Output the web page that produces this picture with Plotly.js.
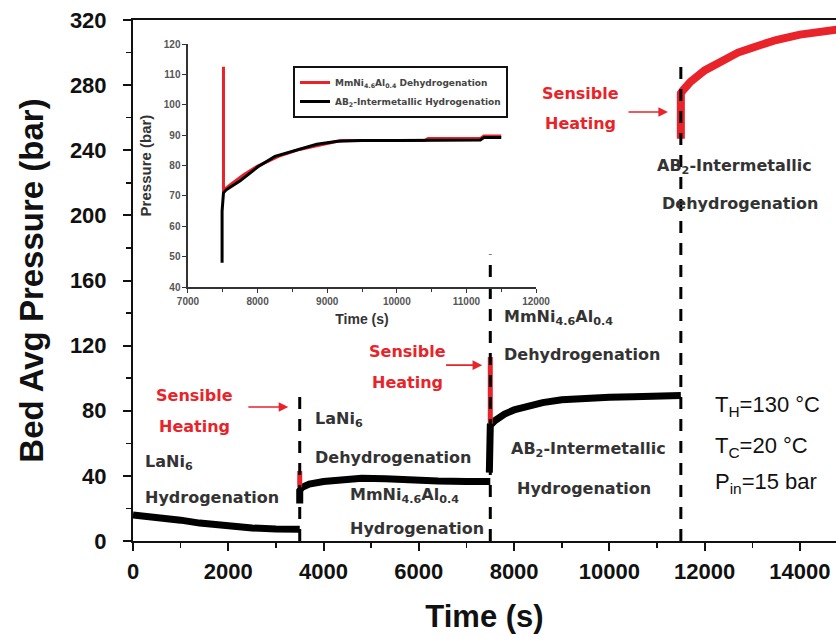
<!DOCTYPE html>
<html><head><meta charset="utf-8">
<script src="https://cdn.plot.ly/plotly-3.0.1.min.js"></script>
<style>html,body{margin:0;padding:0;background:#fff}#chart{width:836px;height:637px}</style>
</head><body><div id="chart"></div>
<script>
// ---------- Main chart data ----------
const laniHydT = [0, 300, 700, 1000, 1400, 2000, 2500, 3000, 3500];
const laniHydP = [16, 15.2, 14, 12.8, 11, 8.8, 8, 7.4, 7.2];

const spike1T = [3500, 3500];
const spike1P = [33, 43];

const mmHydT = [3500, 3500, 3550, 3700, 4000, 4400, 4800, 5300, 5800, 6400, 7000, 7500];
const mmHydP = [23, 31, 33, 35, 36.5, 37.5, 38.5, 38.3, 37.3, 36.8, 36.6, 36.6];

const spike2T = [7500, 7500];
const spike2P = [72, 113];

const ab2HydT = [7480, 7480, 7500, 7600, 7800, 8000, 8300, 8600, 9000, 9500, 10000, 10500, 11000, 11500];
const ab2HydP = [42, 70, 71, 74, 78, 80.5, 83, 85, 86.8, 87.8, 88.3, 88.6, 89, 89.3];

const ab2DehT = [11500, 11500, 11550, 11700, 12000, 12300, 12700, 13000, 13500, 14000, 14500, 15000];
const ab2DehP = [247, 275, 277, 282, 289, 294, 300, 303, 307.7, 311, 313, 315];

const dividerT = [3500, 7500, 11500];
const dividerTop = [92, 176, 296];

// ---------- Inset data ----------
const insetRedT = [7510, 7510, 7520, 7600, 7800, 8000, 8300, 8600, 9000, 9200, 10400, 10450, 10600, 11200, 11250, 11500];
const insetRedP = [112.5, 71, 72, 73.5, 77, 79.8, 83, 85.3, 87.3, 88.2, 88.2, 88.9, 88.9, 88.9, 89.7, 89.7];
const insetBlackT = [7490, 7490, 7510, 7550, 7750, 8000, 8250, 8550, 8850, 9150, 9500, 10000, 10500, 11200, 11250, 11500];
const insetBlackP = [48, 65, 71, 72, 75, 79.5, 83, 85, 87, 88, 88.2, 88.2, 88.3, 88.4, 89.2, 89.2];

const legendNames = ['MmNi<sub>4.6</sub>Al<sub>0.4</sub> Dehydrogenation', 'AB<sub>2</sub>-Intermetallic Hydrogenation'];

const RED = '#e8232a';
const BLACK = '#000000';

const dashX = [], dashY = [];
dividerT.forEach((t, i) => { dashX.push(t, t, null); dashY.push(0, dividerTop[i], null); });

const traces = [
  {x: laniHydT, y: laniHydP, mode: 'lines', line: {color: BLACK, width: 7}, showlegend: false},
  {x: mmHydT, y: mmHydP, mode: 'lines', line: {color: BLACK, width: 7}, showlegend: false},
  {x: spike1T, y: spike1P, mode: 'lines', line: {color: RED, width: 5}, showlegend: false},
  {x: ab2HydT, y: ab2HydP, mode: 'lines', line: {color: BLACK, width: 7}, showlegend: false},
  {x: spike2T, y: spike2P, mode: 'lines', line: {color: RED, width: 5}, showlegend: false},
  {x: ab2DehT, y: ab2DehP, mode: 'lines', line: {color: RED, width: 8}, showlegend: false},
  {x: dashX, y: dashY, mode: 'lines', line: {color: BLACK, width: 3, dash: '12px,10px'}, showlegend: false},
  {x: insetRedT, y: insetRedP, xaxis: 'x2', yaxis: 'y2', mode: 'lines', name: legendNames[0], line: {color: RED, width: 3}},
  {x: insetBlackT, y: insetBlackP, xaxis: 'x2', yaxis: 'y2', mode: 'lines', name: legendNames[1], line: {color: BLACK, width: 3}}
];

const LBL = {family: 'DejaVu Sans', size: 16, color: '#333333', weight: 'bold'};
const RLBL = {family: 'DejaVu Sans', size: 16, color: RED, weight: 'bold'};
const CND = {family: 'Liberation Sans', size: 22, color: '#111111'};

function txt(x, y, text, font, xanchor) {
  return {x: x, y: y, xref: 'x', yref: 'y', text: text, showarrow: false, font: font, xanchor: xanchor || 'left', yanchor: 'middle'};
}
function arrow(x0, x1, y) {
  return {x: x1, y: y, ax: x0, ay: y, xref: 'x', yref: 'y', axref: 'x', ayref: 'y', text: '', showarrow: true,
          arrowcolor: RED, arrowwidth: 1.6, arrowhead: 2, arrowsize: 1.2, standoff: 0, startstandoff: 0};
}

const annotations = [
  txt(1300, 89.5, 'Sensible', RLBL, 'center'),
  txt(1300, 70.5, 'Heating', RLBL, 'center'),
  arrow(2390, 3260, 82.3),
  txt(210, 48.5, 'LaNi<sub>6</sub>', LBL),
  txt(210, 27, 'Hydrogenation', LBL),
  txt(3780, 74.5, 'LaNi<sub>6</sub>', LBL),
  txt(3780, 51.5, 'Dehydrogenation', LBL),
  txt(4510, 28, 'MmNi<sub>4.6</sub>Al<sub>0.4</sub>', LBL),
  txt(4510, 7.5, 'Hydrogenation', LBL),
  txt(5760, 116.5, 'Sensible', RLBL, 'center'),
  txt(5760, 97.5, 'Heating', RLBL, 'center'),
  arrow(6540, 7330, 108),
  txt(7745, 137.5, 'MmNi<sub>4.6</sub>Al<sub>0.4</sub>', LBL),
  txt(7745, 114.5, 'Dehydrogenation', LBL),
  txt(7890, 56, 'AB<sub>2</sub>-Intermetallic', LBL),
  txt(8020, 32.5, 'Hydrogenation', LBL),
  txt(9400, 275, 'Sensible', RLBL, 'center'),
  txt(9400, 256.5, 'Heating', RLBL, 'center'),
  arrow(10370, 11230, 263.5),
  txt(10950, 230, 'AB<sub>2</sub>-Intermetallic', LBL),
  txt(11060, 207.5, 'Dehydrogenation', LBL),
  txt(12170, 83, 'T<sub>H</sub>=130 °C', CND),
  txt(12170, 57.5, 'T<sub>C</sub>=20 °C', CND),
  txt(12170, 35.5, 'P<sub>in</sub>=15 bar', CND)
];

const layout = {
  width: 836, height: 637,
  margin: {l: 133, r: 0, t: 20, b: 96},
  paper_bgcolor: '#ffffff', plot_bgcolor: 'rgba(0,0,0,0)',
  font: {family: 'Liberation Sans', color: '#111'},
  xaxis: {
    range: [0, 14757], domain: [0, 1], showgrid: false, zeroline: false,
    showline: true, linecolor: '#111', linewidth: 2, mirror: true,
    ticks: 'outside', ticklen: 8, tickwidth: 2, tickcolor: '#111', dtick: 2000, tick0: 0, tickformat: 'd',
    minor: {dtick: 1000, ticks: 'outside', ticklen: 5, tickwidth: 1.5, tickcolor: '#111'},
    tickfont: {family: 'Liberation Sans', size: 22, color: '#111', weight: 'bold'},
    ticklabelstandoff: 2,
    title: {text: 'Time (s)', font: {family: 'Liberation Sans', size: 31, color: '#111', weight: 'bold'}, standoff: 22}
  },
  yaxis: {
    range: [0, 320], domain: [0, 1], showgrid: false, zeroline: false,
    showline: true, linecolor: '#111', linewidth: 2,
    ticks: 'outside', ticklen: 8, tickwidth: 2, tickcolor: '#111', dtick: 40, tick0: 0, tickformat: 'd',
    minor: {dtick: 20, ticks: 'outside', ticklen: 5, tickwidth: 1.5, tickcolor: '#111'},
    tickfont: {family: 'Liberation Sans', size: 22, color: '#111', weight: 'bold'},
    ticklabelstandoff: 12,
    title: {text: 'Bed Avg Pressure (bar)', font: {family: 'Liberation Sans', size: 33, color: '#111', weight: 'bold'}, standoff: 16}
  },
  xaxis2: {
    anchor: 'y2', domain: [0.0782, 0.5733], range: [7000, 12000], showgrid: false, zeroline: false,
    showline: true, linecolor: '#333', linewidth: 1.5,
    ticks: 'outside', ticklen: 4, tickwidth: 1, tickcolor: '#333', dtick: 1000, tick0: 7000, tickformat: 'd',
    minor: {dtick: 500, ticks: 'outside', ticklen: 3, tickcolor: '#333'},
    tickfont: {family: 'Liberation Sans', size: 10, color: '#555', weight: 'bold'},
    title: {text: 'Time (s)', font: {family: 'Liberation Sans', size: 14, color: '#333', weight: 'bold'}, standoff: 8}
  },
  yaxis2: {
    anchor: 'x2', domain: [0.4875, 0.9539], range: [40, 120], showgrid: false, zeroline: false,
    showline: true, linecolor: '#333', linewidth: 1.5,
    ticks: 'outside', ticklen: 4, tickwidth: 1, tickcolor: '#333', dtick: 10, tick0: 40, tickformat: 'd',
    tickfont: {family: 'Liberation Sans', size: 10, color: '#555', weight: 'bold'},
    title: {text: 'Pressure (bar)', font: {family: 'Liberation Sans', size: 15, color: '#333', weight: 'bold'}, standoff: 8}
  },
  legend: {
    x: 0.2276, y: 0.9117, xanchor: 'left', yanchor: 'top',
    bordercolor: '#111', borderwidth: 2, bgcolor: 'rgba(255,255,255,0)',
    font: {family: 'DejaVu Sans', size: 9, color: '#444', weight: 'bold'},
    itemwidth: 30, tracegroupgap: 0
  },
  annotations: annotations
};

Plotly.newPlot('chart', traces, layout, {displayModeBar: false, staticPlot: true});
</script>
</body></html>
